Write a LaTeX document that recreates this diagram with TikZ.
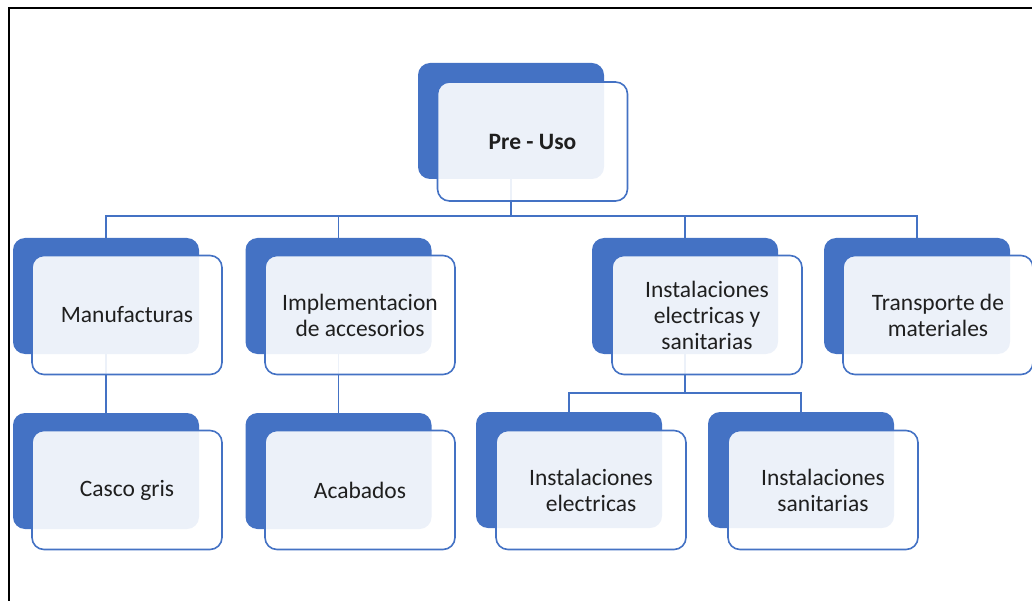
\documentclass[tikz,border=0pt]{standalone}
\usepackage{fontspec}
\setmainfont{Carlito}
\definecolor{chartblue}{HTML}{4472C4}
\tikzset{
  backbox/.style={fill=chartblue, rounded corners=12pt, minimum width=186pt,
    minimum height=116pt, inner sep=0pt},
  frontbox/.style={draw=chartblue, line width=1.6pt, fill=white, fill opacity=0.9,
    text opacity=1, rounded corners=12pt, minimum width=190pt, minimum height=119pt,
    inner sep=0pt, align=center, font=\fontsize{23.5}{26}\selectfont, text=black!88},
  link/.style={draw=chartblue, line width=1.8pt},
}
\begin{document}
\begin{tikzpicture}[x=1pt, y=-1pt]
    \useasboundingbox (0,0) rectangle (1032,601);
    % frame
    \draw[line width=2.6pt] (9,602) -- (9,8) -- (1033,8);
    % back boxes
    \foreach \n/\x/\y in {pre/511/121, man/106/296, imp/338.5/296, ies/685/296,
            tra/917/296, cas/106/471, aca/338.5/471, iel/569/470, isa/801/470} {
        \node[backbox] (\n-b) at (\x,\y) {};
    };
    % links
    \foreach \c in {man,imp,ies,tra} {
        \draw[link] (pre-b.south) -- ++(0,37) -| (\c-b.north);
    };
    \draw[link] (man-b.south) -- (cas-b.north);
    \draw[link] (imp-b.south) -- (aca-b.north);
    \foreach \c in {iel,isa} {
        \draw[link] (ies-b.south) -- ++(0,39) -| (\c-b.north);
    };
    % front boxes
    \foreach \n/\x/\y/\txt in {pre/532.5/141.5/\textbf{Pre - Uso},
            man/127/315/Manufacturas,
            imp/360/315/Implementacion\\de accesorios,
            ies/707/315/Instalaciones\\electricas y\\sanitarias,
            tra/938/315/Transporte de\\materiales,
            cas/127/490/Casco gris,
            aca/360/490/Acabados,
            iel/591/490/Instalaciones\\electricas,
            isa/823/490/Instalaciones\\sanitarias} {
        \node[frontbox] (\n-f) at (\x,\y) {\txt};
    };
\end{tikzpicture}
\end{document}
